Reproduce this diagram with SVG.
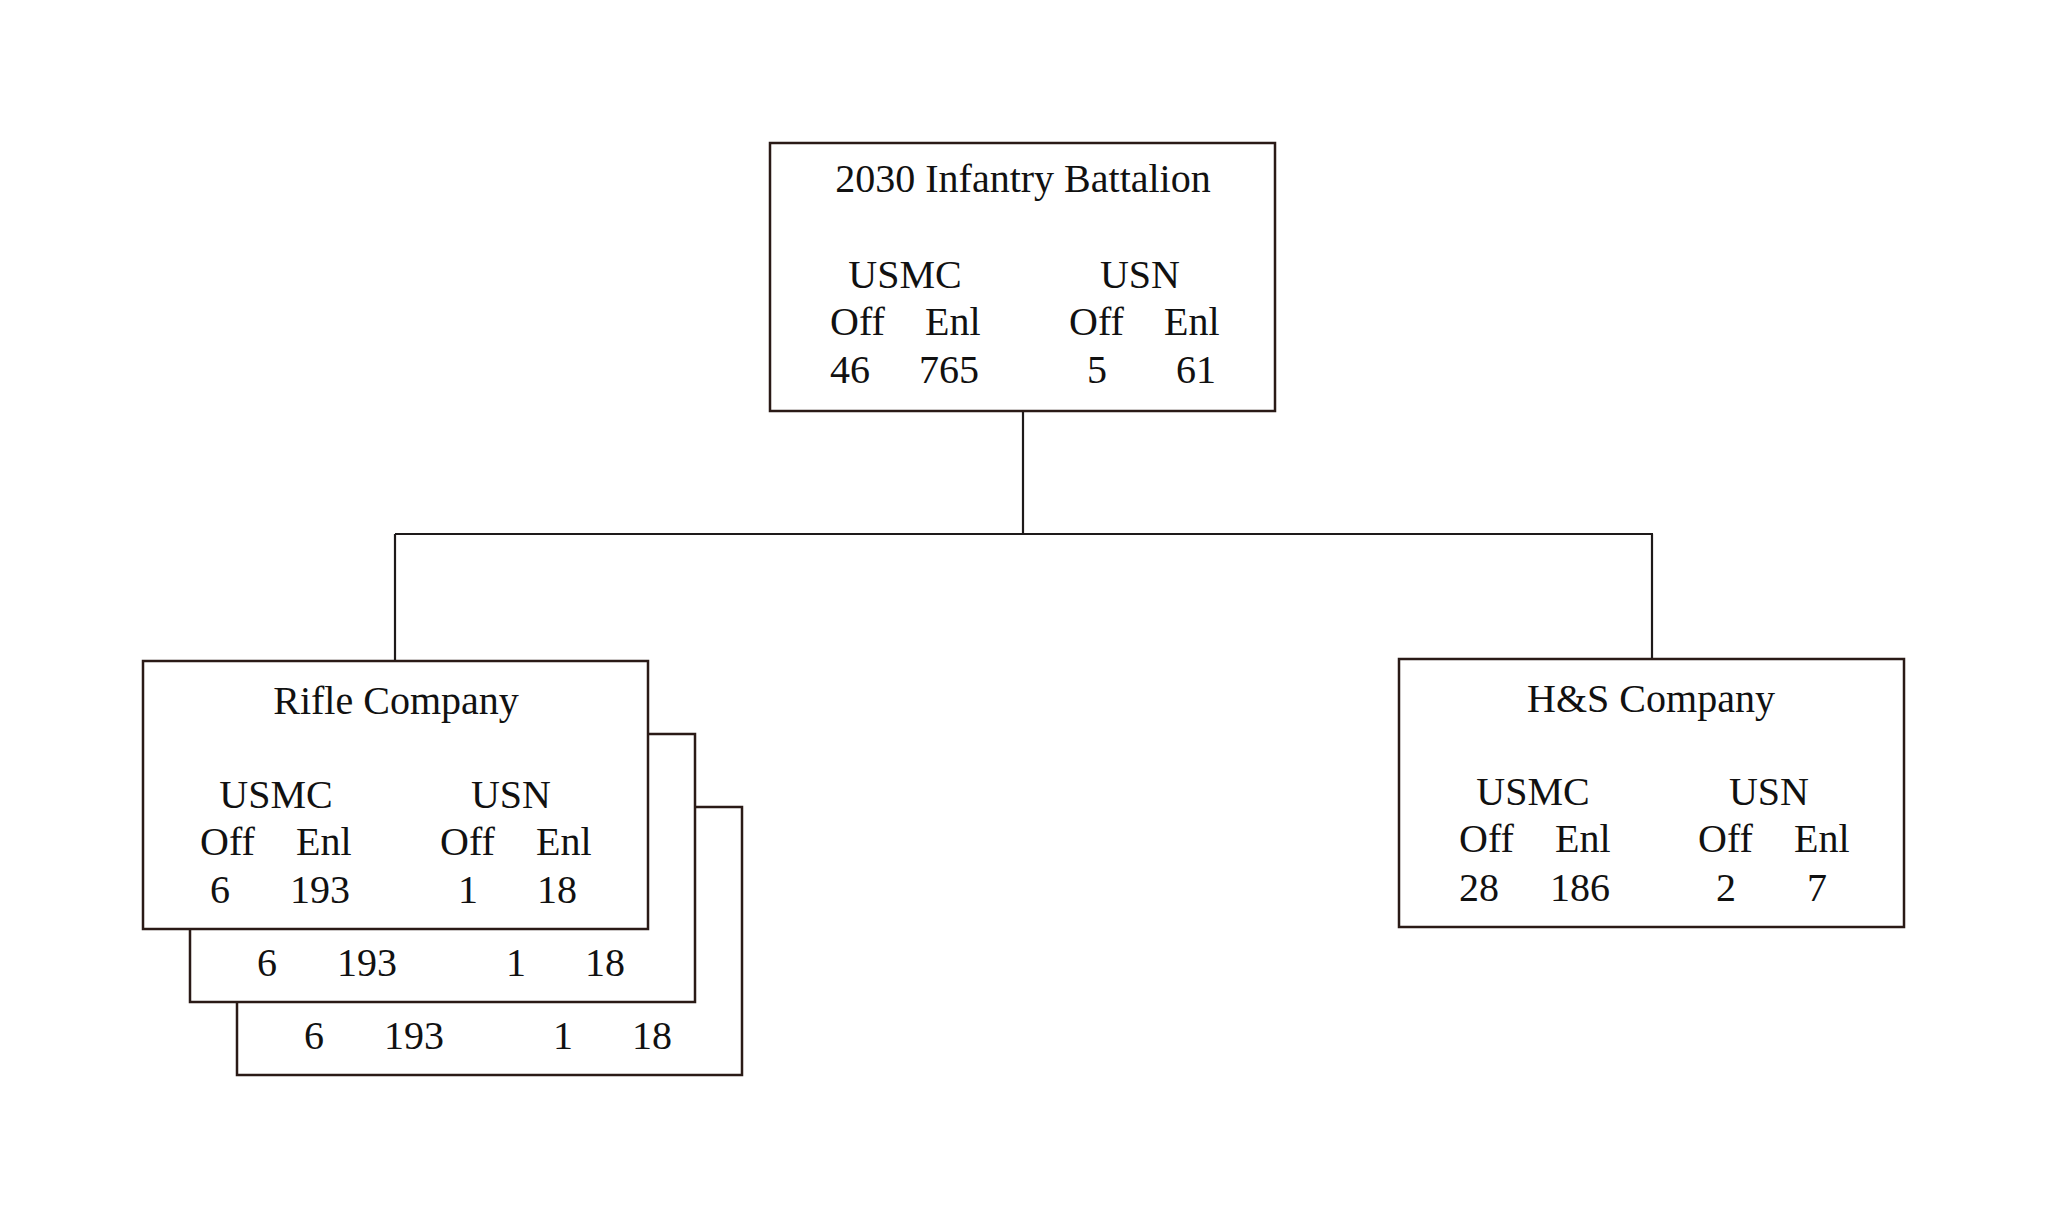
<svg xmlns="http://www.w3.org/2000/svg" width="2048" height="1224" viewBox="0 0 2048 1224">
<style>
.box{fill:#ffffff;stroke:#2a1a16;stroke-width:2.5}
.ln{fill:none;stroke:#1e1a1a;stroke-width:2.2}
text{font-family:"Liberation Serif","Times New Roman",serif;font-size:40px;fill:#111}
.c{text-anchor:middle}
</style>
<rect width="2048" height="1224" fill="#ffffff"/>
<g id="connectors">
<line class="ln" x1="1023" y1="411" x2="1023" y2="534"/>
<line class="ln" x1="395" y1="534" x2="1653" y2="534"/>
<line class="ln" x1="395" y1="534" x2="395" y2="661"/>
<line class="ln" x1="1652" y1="534" x2="1652" y2="659"/>
</g>
<g id="battalion">
<rect class="box" x="770" y="143" width="505" height="268"/>
<text class="c" x="1023" y="192">2030 Infantry Battalion</text>
<text class="c" x="905" y="288">USMC</text>
<text class="c" x="1140" y="288">USN</text>
<text x="830" y="335">Off</text>
<text x="925" y="335">Enl</text>
<text x="1069" y="335">Off</text>
<text x="1164" y="335">Enl</text>
<text x="830" y="383">46</text>
<text x="919" y="383">765</text>
<text x="1087" y="383">5</text>
<text x="1176" y="383">61</text>
</g>
<g id="rifle-company-3">
<rect class="box" x="237" y="807" width="505" height="268"/>
<text x="304" y="1049">6</text>
<text x="384" y="1049">193</text>
<text x="553" y="1049">1</text>
<text x="632" y="1049">18</text>
</g>
<g id="rifle-company-2">
<rect class="box" x="190" y="734" width="505" height="268"/>
<text x="257" y="976">6</text>
<text x="337" y="976">193</text>
<text x="506" y="976">1</text>
<text x="585" y="976">18</text>
</g>
<g id="rifle-company">
<rect class="box" x="143" y="661" width="505" height="268"/>
<text class="c" x="396" y="714">Rifle Company</text>
<text class="c" x="276" y="808">USMC</text>
<text class="c" x="511" y="808">USN</text>
<text x="200" y="855">Off</text>
<text x="296" y="855">Enl</text>
<text x="440" y="855">Off</text>
<text x="536" y="855">Enl</text>
<text x="210" y="903">6</text>
<text x="290" y="903">193</text>
<text x="458" y="903">1</text>
<text x="537" y="903">18</text>
</g>
<g id="hs-company">
<rect class="box" x="1399" y="659" width="505" height="268"/>
<text class="c" x="1651" y="712">H&amp;S Company</text>
<text class="c" x="1533" y="805">USMC</text>
<text class="c" x="1769" y="805">USN</text>
<text x="1459" y="852">Off</text>
<text x="1555" y="852">Enl</text>
<text x="1698" y="852">Off</text>
<text x="1794" y="852">Enl</text>
<text x="1459" y="901">28</text>
<text x="1550" y="901">186</text>
<text x="1716" y="901">2</text>
<text x="1807" y="901">7</text>
</g>
</svg>
